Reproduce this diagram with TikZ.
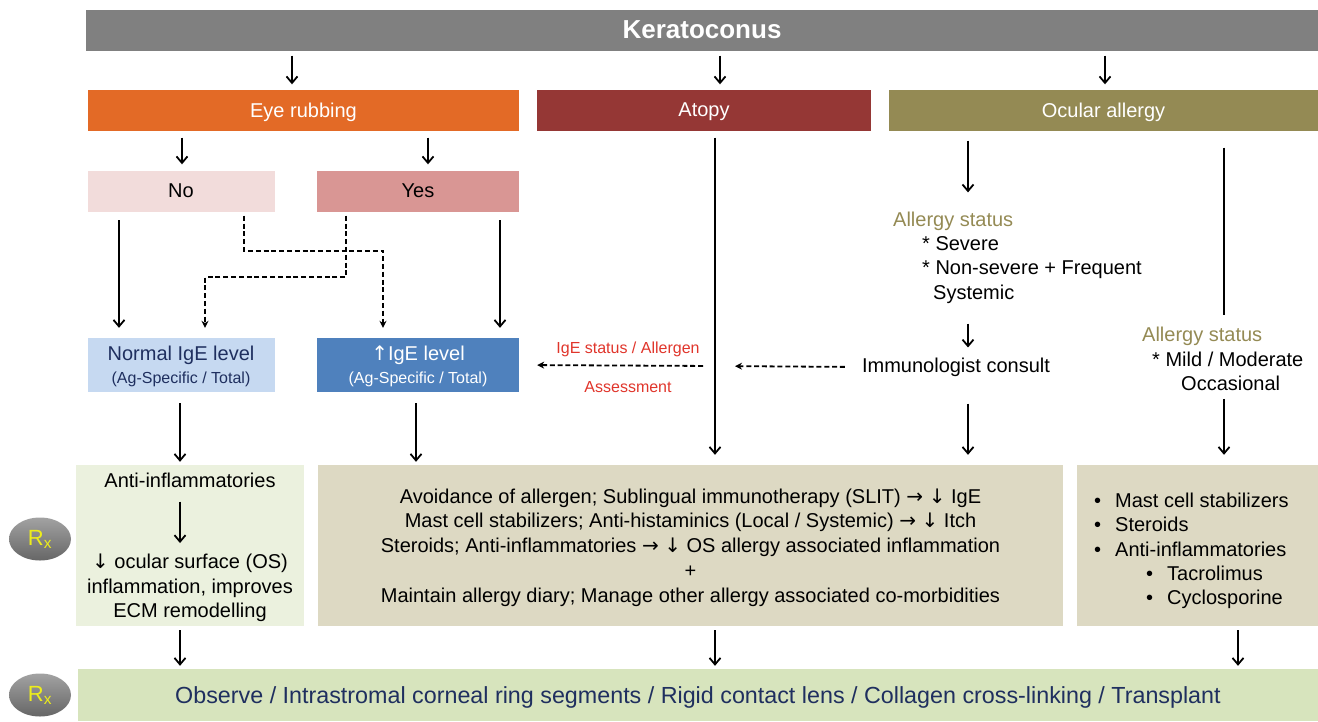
\documentclass[tikz,border=0pt]{standalone}
\usepackage{fontspec}
\setmainfont{Liberation Sans}
\newfontfamily\djv{DejaVu Sans}
\newcommand\rar{{\djv →}}
\newcommand\dar{{\djv ↓}}
\newcommand\uar{{\djv ↑}}
\usetikzlibrary{arrows.meta,shapes.geometric,calc}
\definecolor{kgray}{HTML}{808080}
\definecolor{eyeor}{HTML}{E36A26}
\definecolor{atopyred}{HTML}{953735}
\definecolor{olivebox}{HTML}{948A54}
\definecolor{nopink}{HTML}{F2DCDB}
\definecolor{yespink}{HTML}{D99694}
\definecolor{lblue}{HTML}{C6D9F1}
\definecolor{mblue}{HTML}{4F81BD}
\definecolor{navy}{HTML}{1F2F5F}
\definecolor{ltgreen}{HTML}{EBF1DE}
\definecolor{tan}{HTML}{DDD9C3}
\definecolor{bgreen}{HTML}{D7E4BD}
\definecolor{redtxt}{HTML}{E0352B}
\definecolor{rxyel}{HTML}{EDED1A}
\definecolor{rxtop}{HTML}{A2A2A2}
\definecolor{rxbot}{HTML}{666666}
\tikzset{
  box/.style={draw=none, inner sep=0pt, minimum height=41pt, text depth=0pt, font=\fontsize{20}{23}\selectfont},
  txt/.style={inner sep=0pt, font=\fontsize{20}{24.4}\selectfont},
  arr/.style={line width=1.8pt, -{Straight Barb[length=6.5pt,width=11pt]}},
  plain/.style={line width=1.8pt},
  dasharr/.style={line width=1.8pt, dash pattern=on 5pt off 2.8pt, -{Stealth[length=7pt,width=7pt]}},
  rx/.style={ellipse, draw=none, minimum width=62pt, minimum height=43pt, inner sep=0pt,
    top color=rxtop, bottom color=rxbot, text=rxyel, font=\fontsize{22}{26}\selectfont},
  redlab/.style={inner sep=0pt, text=redtxt, font=\fontsize{16}{19}\selectfont}
}
\begin{document}
\begin{tikzpicture}[x=1pt,y=-1pt]
\useasboundingbox (0,0) rectangle (1318,721);
% main boxes
\node[box, fill=kgray, text=white, minimum width=1232pt, minimum height=41pt,
      font=\bfseries\fontsize{26}{30}\selectfont] (kera) at (702,30) {Keratoconus};
\node[box, fill=eyeor, text=white, minimum width=431pt] (eye) at (303.5,110) {Eye rubbing};
\node[box, fill=atopyred, text=white, minimum width=334pt] (atopy) at (704,110) {Atopy};
\node[box, fill=olivebox, text=white, minimum width=429pt] (ocular) at (1103.5,110) {Ocular allergy};
\node[box, fill=nopink, minimum width=187pt] (no) at (181,191) {No};
\node[box, fill=yespink, minimum width=202pt] (yes) at (418,191) {Yes};
\node[box, fill=lblue, text=navy, minimum width=187pt, minimum height=54pt, align=center] (normal) at (181,365)
  {Normal IgE level\\{\fontsize{16}{19}\selectfont (Ag-Specific / Total)}};
\node[box, fill=mblue, text=white, minimum width=202pt, minimum height=54pt, align=center] (up) at (418,365)
  {\uar IgE level\\{\fontsize{16}{19}\selectfont (Ag-Specific / Total)}};
\node[box, fill=ltgreen, minimum width=228pt, minimum height=161pt] (lefttx) at (190,545.5) {};
\node[box, fill=tan, minimum width=745pt, minimum height=161pt] (midtx) at (690.5,545.5) {};
\node[box, fill=tan, minimum width=241pt, minimum height=161pt] (righttx) at (1197.5,545.5) {};
\node[box, fill=bgreen, text=navy, minimum width=1240pt, minimum height=52pt,
      font=\fontsize{23.3}{27}\selectfont] (bottom) at (698,695) {Observe / Intrastromal corneal ring segments / Rigid contact lens / Collagen cross-linking / Transplant};
% Rx
\node[rx] (rx1) at (40,539) {R\textsubscript{x}};
\node[rx] (rx2) at (40,695) {R\textsubscript{x}};
% text nodes
\node[txt, anchor=west, align=left] (as1) at (893,257.5)
  {\textcolor{olivebox}{Allergy status}\\\hspace*{29pt}* Severe\\\hspace*{29pt}* Non-severe + Frequent\\\hspace*{40pt}Systemic};
\node[txt] (imm) at (956,367) {Immunologist consult};
\node[txt, anchor=west, align=left] (as2) at (1142,359)
  {\textcolor{olivebox}{Allergy status}\\\hspace*{10pt}* Mild / Moderate\\\hspace*{39pt}Occasional};
\node[txt] (lt1) at (190,480) {Anti-inflammatories};
\node[txt, align=center] (lt2) at (190,588) {\dar\ ocular surface (OS)\\inflammation, improves\\ECM remodelling};
\node[txt, align=center, font=\fontsize{20}{24.75}\selectfont] (mt) at (690.5,547.5)
  {Avoidance of allergen; Sublingual immunotherapy (SLIT) \rar\ \dar\ IgE\\
   Mast cell stabilizers; Anti-histaminics (Local / Systemic) \rar\ \dar\ Itch\\
   Steroids; Anti-inflammatories \rar\ \dar\ OS allergy associated inflammation\\
   +\\
   Maintain allergy diary; Manage other allergy associated co-morbidities};
\node[txt, anchor=west, align=left] (rt) at (1094,551)
  {\makebox[21pt][l]{•}Mast cell stabilizers\\
   \makebox[21pt][l]{•}Steroids\\
   \makebox[21pt][l]{•}Anti-inflammatories\\
   \hspace*{52pt}\makebox[21pt][l]{•}Tacrolimus\\
   \hspace*{52pt}\makebox[21pt][l]{•}Cyclosporine};
\node[redlab] (lab1) at (628,349) {IgE status / Allergen};
\node[redlab] (lab2) at (628,387) {Assessment};
\coordinate (cross) at (715,366);
% arrows from Keratoconus
\draw[arr, shorten <=5pt, shorten >=5pt] ([xshift=-410pt]kera.south) -- ([xshift=-11.5pt]eye.north);
\draw[arr, shorten <=5pt, shorten >=5pt] ([xshift=18pt]kera.south) -- ([xshift=16pt]atopy.north);
\draw[arr, shorten <=5pt, shorten >=5pt] ([xshift=403pt]kera.south) -- ([xshift=1.5pt]ocular.north);
% eye rubbing
\draw[arr, shorten <=7pt, shorten >=6pt] ([xshift=-121.5pt]eye.south) -- ([xshift=1pt]no.north);
\draw[arr, shorten <=7pt, shorten >=6pt] ([xshift=124.5pt]eye.south) -- ([xshift=10pt]yes.north);
\draw[arr, shorten <=8.5pt, shorten >=10pt] ([xshift=-62pt]no.south) -- ([xshift=-62pt]normal.north);
\draw[arr, shorten <=8.5pt, shorten >=10pt] ([xshift=82pt]yes.south) -- ([xshift=82pt]up.north);
\draw[dasharr, shorten <=4pt, shorten >=10pt] ([xshift=63pt]no.south) -- ([xshift=63pt,yshift=-39pt]no.south) -| ([xshift=-35pt]up.north);
\draw[dasharr, shorten <=4pt, shorten >=10pt] ([xshift=-72pt]yes.south) -- ([xshift=-72pt,yshift=-65.5pt]yes.south) -| ([xshift=24pt]normal.north);
\draw[arr, shorten <=11pt, shorten >=3pt] ([xshift=-1pt]normal.south) -- ([xshift=-10pt]lefttx.north);
\draw[arr, shorten <=11pt, shorten >=3pt] ([xshift=-2pt]up.south) -- ([xshift=-274.5pt]midtx.north);
% atopy
\draw[arr, shorten <=7pt, shorten >=10pt] ([xshift=11pt]atopy.south) -- ([xshift=24.5pt]midtx.north);
% ocular allergy
\draw[arr, shorten <=10pt, shorten >=19pt] ([xshift=-135.5pt]ocular.south) -- ([xshift=-135.5pt]ocular.south |- as1.north);
\draw[arr, shorten <=20pt, shorten >=10pt] ([xshift=12pt]imm.north |- as1.south) -- ([xshift=12pt]imm.north);
\draw[arr, shorten <=27pt, shorten >=10pt] ([xshift=12pt]imm.south) -- ([xshift=277.5pt]midtx.north);
\draw[plain, shorten <=17pt, shorten >=12pt] ([xshift=120.5pt]ocular.south) -- ([xshift=120.5pt]ocular.south |- as2.north);
\draw[arr, shorten <=8pt, shorten >=10pt] ([xshift=26.5pt]righttx.north |- as2.south) -- ([xshift=26.5pt]righttx.north);
% dashed assessment
\draw[dasharr, shorten <=17pt, shorten >=20pt] (imm.west) -- (cross);
\draw[dasharr, shorten <=12pt, shorten >=18pt] (cross) -- (up.east);
% left treatment internal
\draw[arr, shorten <=14pt, shorten >=11pt] ([xshift=-10pt]lt1.south) -- ([xshift=-10pt]lt2.north);
% to bottom
\draw[arr, shorten <=4pt, shorten >=3pt] ([xshift=-10pt]lefttx.south) -- ([xshift=-518pt]bottom.north);
\draw[arr, shorten <=4pt, shorten >=3pt] ([xshift=24.5pt]midtx.south) -- ([xshift=17pt]bottom.north);
\draw[arr, shorten <=4pt, shorten >=3pt] ([xshift=40.5pt]righttx.south) -- ([xshift=540pt]bottom.north);
\end{tikzpicture}
\end{document}
